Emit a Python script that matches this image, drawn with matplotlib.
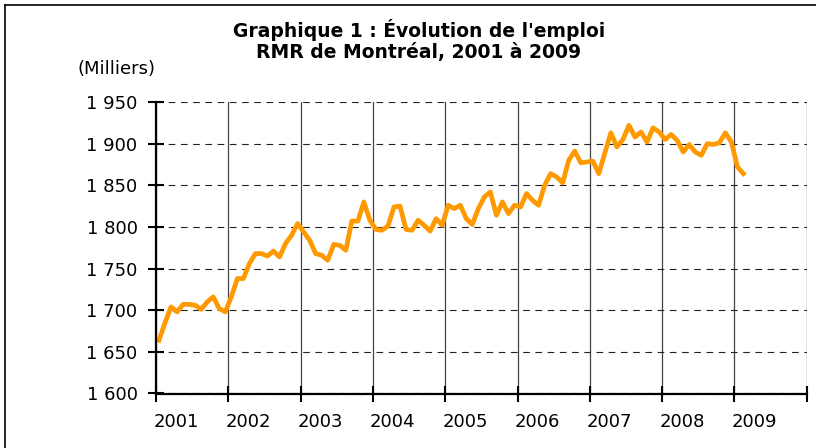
import matplotlib
matplotlib.use("Agg")
import matplotlib.pyplot as plt
from matplotlib.lines import Line2D

# Monthly employment, Montreal CMA (thousands), Jan 2001 - Feb 2009
years = [2001, 2002, 2003, 2004, 2005, 2006, 2007, 2008, 2009]
emploi = [
    1664, 1685, 1704, 1698, 1707, 1707, 1706, 1701, 1710, 1716, 1702, 1698,  # 2001
    1716, 1738, 1738, 1756, 1768, 1768, 1765, 1771, 1764, 1780, 1790, 1804,  # 2002
    1794, 1784, 1768, 1766, 1760, 1779, 1778, 1772, 1807, 1807, 1830, 1808,  # 2003
    1797, 1796, 1801, 1824, 1825, 1797, 1796, 1808, 1802, 1795, 1810, 1802,  # 2004
    1826, 1822, 1826, 1810, 1803, 1822, 1836, 1842, 1814, 1830, 1816, 1826,  # 2005
    1824, 1840, 1832, 1826, 1850, 1864, 1860, 1853, 1880, 1891, 1877, 1878,  # 2006
    1879, 1864, 1889, 1913, 1896, 1905, 1922, 1908, 1914, 1902, 1919, 1914,  # 2007
    1905, 1911, 1904, 1890, 1899, 1890, 1886, 1900, 1899, 1901, 1913, 1902,  # 2008
    1872, 1864,                                                              # 2009
]
y_ticks = [1600, 1650, 1700, 1750, 1800, 1850, 1900, 1950]

plt.rcParams["font.family"] = ["DejaVu Sans"]

fig = plt.figure(figsize=(8.16, 4.48), dpi=100)
W, H = 816, 448
ax = fig.add_axes([156 / W, 1 - 393.5 / H, (806.7 - 156) / W, (393.5 - 102) / H])

x = [i + 0.5 for i in range(len(emploi))]
ax.plot(x, emploi, color="#FF9900", lw=3.4, solid_joinstyle="round", zorder=3)

ax.set_xlim(0, 12 * len(years))
ax.set_ylim(1600, 1950)

# y axis
ax.set_yticks(y_ticks, labels=[f"{v:,}".replace(",", " ") for v in y_ticks])
ax.yaxis.grid(True, color="#222222", lw=0.8, linestyle=(0, (6, 5)))

# x axis: tick marks at each January, labels sit a bit to the right (Excel style)
xt = [12 * i for i in range(len(years) + 1)]
ax.set_xticks(xt, labels=[])
ax.set_xticks([12 * i + 3.3 for i in range(len(years))],
              labels=[str(y) for y in years], minor=True)
ax.xaxis.grid(True, which="major", color="#444444", lw=0.9, linestyle="-")

ax.tick_params(axis="both", which="major", direction="inout", length=11.5, width=1.5,
               colors="black", labelsize=13)
ax.tick_params(axis="x", which="minor", length=0, labelsize=13, pad=14)
ax.tick_params(axis="y", pad=7.5)
ax.set_axisbelow(True)

for s in ("top", "right"):
    ax.spines[s].set_visible(False)
for s in ("left", "bottom"):
    ax.spines[s].set_linewidth(1.6)
    ax.spines[s].set_zorder(4)

# titles
fig.text(419 / W, 1 - 37 / H, "Graphique 1 : Évolution de l'emploi",
         ha="center", va="baseline", fontsize=13.5, fontweight="bold")
fig.text(419 / W, 1 - 58 / H, "RMR de Montréal, 2001 à 2009",
         ha="center", va="baseline", fontsize=13.5, fontweight="bold")
fig.text(117 / W, 1 - 69.5 / H, "(Milliers)", ha="center", va="center", fontsize=13)

# outer chart border (top and left visible)
fig.add_artist(Line2D([5 / W, 1.01], [1 - 5 / H, 1 - 5 / H], color="black", lw=1.2,
                      transform=fig.transFigure))
fig.add_artist(Line2D([5 / W, 5 / W], [-0.01, 1 - 5 / H], color="black", lw=1.2,
                      transform=fig.transFigure))

fig.savefig("out.png", dpi=100)
